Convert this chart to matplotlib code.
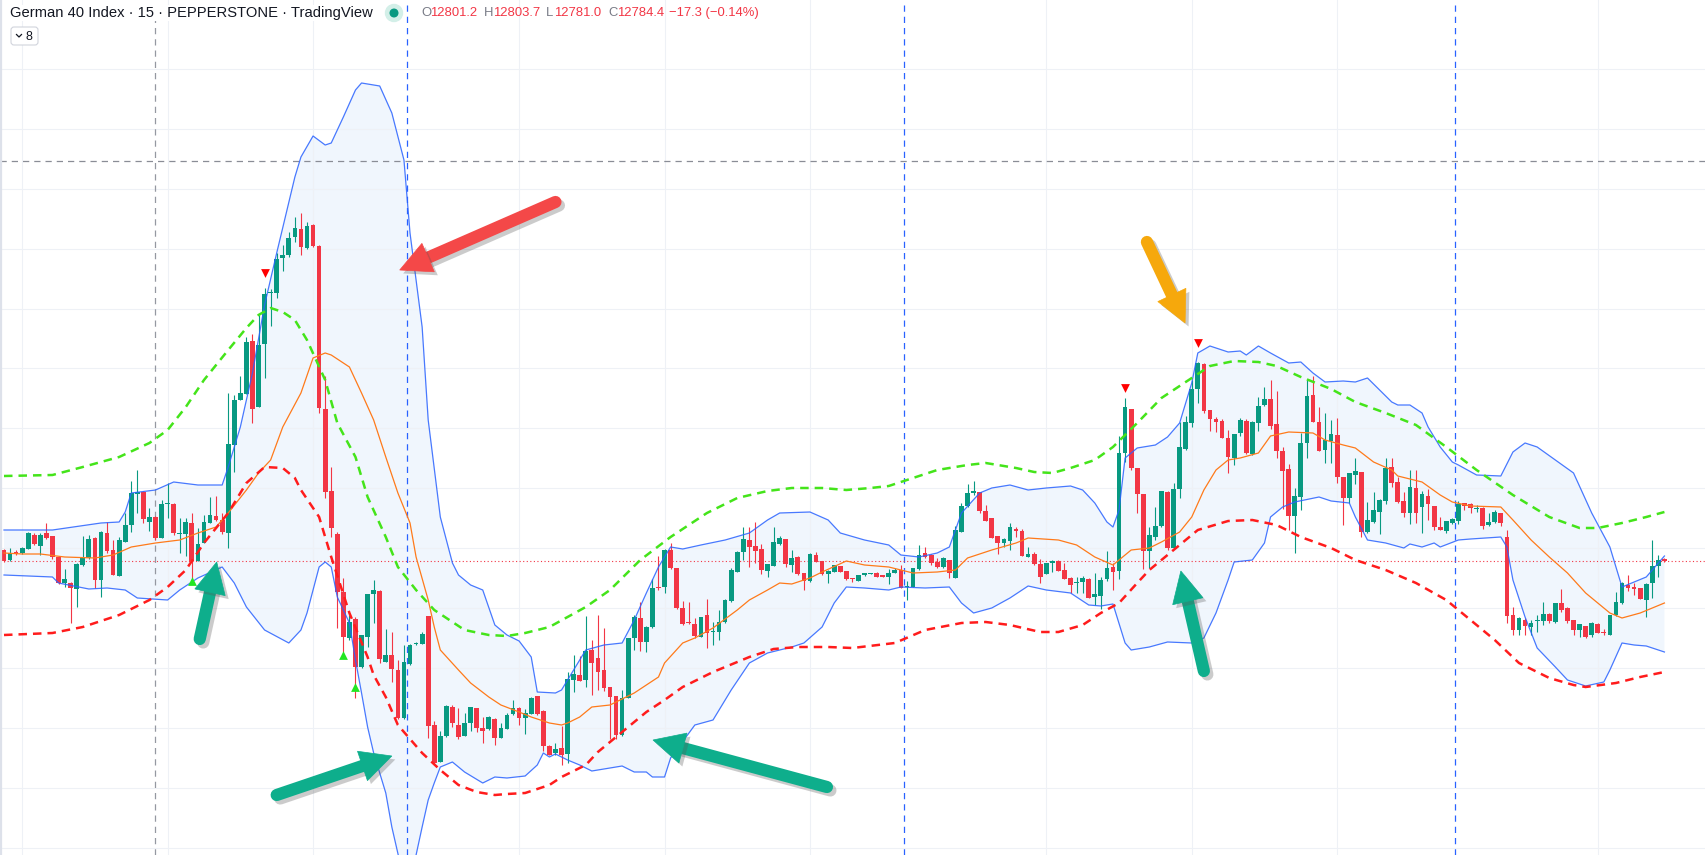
import numpy as np
import matplotlib
matplotlib.use("Agg")
import matplotlib.pyplot as plt
from matplotlib.patches import Polygon, Circle, FancyBboxPatch
import matplotlib.patheffects as pe

# ---- 15 min candles (German 40) ----
op = [12795,12785,12793,12792,12796,12810,12799,12812,12809,12788,
      12762,12762,12756,12780,12787,12807,12765,12812,12795,12769,
      12803,12820,12851,12853,12823,12828,12807,12841,12841,12811,
      12811,12822,12784,12802,12822,12829,12825,12812,12900,12945,
      12951,13004,12938,13001,13052,13052,13087,13090,13108,13116,
      13097,13120,13099,12936,12854,12811,12753,12707,12726,12678,
      12708,12751,12754,12683,12690,12675,12627,12681,12701,12701,
      12729,12620,12583,12609,12638,12620,12609,12622,12637,12617,
      12616,12626,12607,12616,12631,12637,12627,12631,12649,12634,
      12599,12592,12597,12591,12665,12670,12665,12695,12687,12675,
      12658,12649,12610,12647,12707,12727,12703,12718,12758,12758,
      12795,12777,12737,12723,12721,12708,12730,12713,12713,12723,
      12744,12773,12793,12805,12799,12796,12774,12779,12801,12806,
      12780,12788,12772,12764,12790,12784,12771,12773,12779,12774,
      12767,12764,12770,12771,12772,12770,12768,12772,12775,12758,
      12758,12776,12792,12790,12783,12778,12785,12767,12813,12839,
      12852,12853,12834,12827,12809,12802,12804,12816,12814,12788,
      12791,12781,12771,12782,12784,12775,12767,12762,12763,12766,
      12748,12749,12766,12778,12774,12892,12936,12877,12851,12794,
      12808,12819,12853,12797,12856,12896,12922,12956,12981,12935,
      12926,12924,12907,12887,12912,12924,12891,12922,12940,12946,
      12921,12894,12876,12829,12848,12902,12950,12923,12895,12904,
      12910,12868,12847,12870,12873,12813,12823,12833,12844,12878,
      12863,12844,12832,12857,12838,12849,12839,12818,12814,12822,
      12824,12842,12841,12835.5,12837,12820,12823,12832,12808,12730,
      12715,12725,12718,12723.5,12724,12731,12723,12742,12737,12725,
      12715,12719,12710,12721,12713,12710,12730,12742,12760,12758,
      12757,12745,12762,12779,12786]
hi = [12796,12797,12795,12798,12813,12812,12812,12822,12809,12788,
      12776,12763,12782,12809,12810,12808,12814,12823,12805,12808,
      12832,12864,12875,12854,12837,12829,12845,12862,12842,12827,
      12827,12832,12817,12830,12848,12849,12832,12952,12950,12969,
      13008,13011,13030,13057,13056,13092,13100,13113,13128,13132,
      13123,13121,13100,12969,12878,12813,12767,12730,12728,12710,
      12751,12765,12755,12716,12713,12685,12700,12701,12703,12713,
      12729,12624,12614,12640,12640,12637,12632,12638,12637,12628,
      12629,12627,12622,12632,12645,12638,12636,12648,12649,12635,
      12600,12602,12619,12673,12690,12689,12729,12705,12730,12717,
      12658,12649,12655,12707,12730,12743,12719,12766,12789,12796,
      12802,12777,12744,12743,12727,12728,12746,12723,12735,12746,
      12777,12794,12818,12818,12823,12801,12781,12818,12809,12806,
      12795,12789,12772,12792,12793,12784,12775,12780,12779,12774,
      12767,12770,12772,12772,12773,12770,12776,12777,12780,12764,
      12777,12800,12798,12791,12787,12788,12785,12819,12842,12861,
      12864,12853,12840,12827,12809,12807,12822,12818,12816,12798,
      12793,12786,12782,12785,12785,12782,12768,12768,12769,12767,
      12772,12768,12794,12782,12909,12947,12936,12877,12851,12818,
      12838,12854,12854,12862,12923,12929,12965,12983,12982,12935,
      12928,12926,12915,12911,12927,12926,12924,12948,12958,12965,
      12954,12898,12881,12857,12912,12966,12969,12938,12932,12925,
      12927,12868,12872,12887,12873,12843,12853,12846,12887,12887,
      12868,12853,12875,12875,12854,12856,12839,12828,12824,12827,
      12844,12842,12842,12840,12838,12832,12835,12832,12815,12738,
      12728,12727,12725,12730,12743,12732,12742,12756,12738,12725,
      12721,12719,12723,12722,12716,12730,12753,12763,12770,12762,
      12757,12762,12805,12790,12787]
lo = [12783,12784,12790,12791,12796,12800,12790,12806,12786,12761,
      12758,12722,12738,12779,12786,12757,12748,12792,12770,12769,
      12803,12813,12832,12822,12814,12805,12807,12827,12810,12792,
      12789,12765,12784,12802,12822,12824,12811,12797,12873,12945,
      12951,12922,12938,12967,13019,13047,13074,13088,13103,13090,
      13096,13098,12932,12847,12808,12717,12693,12705,12647,12677,
      12698,12722,12682,12683,12663,12626,12626,12680,12700,12701,
      12607,12580,12583,12608,12618,12606,12609,12614,12613,12602,
      12615,12600,12607,12616,12630,12620,12611,12631,12630,12594,
      12590,12590,12580,12582,12653,12664,12658,12650,12655,12654,
      12606,12606,12609,12647,12695,12694,12693,12717,12755,12752,
      12776,12736,12720,12721,12707,12708,12697,12700,12705,12722,
      12743,12773,12785,12778,12782,12771,12768,12779,12800,12778,
      12773,12770,12755,12763,12783,12770,12762,12773,12773,12765,
      12763,12764,12769,12771,12768,12768,12761,12772,12757,12745,
      12758,12775,12787,12780,12777,12777,12767,12767,12813,12838,
      12850,12832,12824,12807,12791,12798,12795,12808,12789,12788,
      12780,12762,12771,12773,12774,12766,12752,12752,12752,12747,
      12740,12736,12764,12755,12766,12883,12875,12832,12776,12777,
      12805,12818,12795,12797,12847,12895,12918,12942,12932,12914,
      12913,12907,12872,12880,12909,12891,12890,12914,12939,12916,
      12887,12836,12815,12792,12835,12887,12923,12894,12882,12882,
      12862,12820,12842,12861,12808,12812,12822,12811,12841,12858,
      12842,12828,12821,12822,12812,12825,12815,12815,12812,12821,
      12821,12835,12832,12833,12816,12819,12822,12819,12722,12710,
      12710,12710,12710,12713,12720,12722,12722,12733,12722,12710,
      12708,12707,12708,12712,12710,12710,12729,12741,12754,12750,
      12746,12728,12747,12768,12783]
cl = [12784,12792,12791,12797,12812,12801,12810,12807,12788,12762,
      12766,12757,12781,12788,12806,12765,12813,12794,12770,12805,
      12820,12852,12853,12826,12828,12807,12841,12842,12812,12812,
      12823,12784,12801,12823,12830,12825,12813,12901,12945,12952,
      13003,12936,13000,13051,13053,13086,13090,13107,13117,13098,
      13119,13099,12937,12853,12817,12753,12708,12723,12678,12710,
      12751,12755,12686,12690,12676,12627,12683,12700,12702,12711,
      12619,12582,12609,12639,12622,12608,12622,12638,12617,12614,
      12628,12607,12617,12630,12637,12627,12632,12647,12631,12599,
      12590,12596,12590,12666,12671,12664,12694,12682,12673,12657,
      12648,12610,12647,12707,12728,12703,12718,12757,12757,12795,
      12777,12737,12721,12722,12709,12728,12712,12714,12723,12745,
      12775,12793,12806,12798,12794,12775,12781,12803,12807,12781,
      12787,12771,12764,12791,12783,12771,12774,12780,12773,12766,
      12766,12770,12772,12772,12768,12768,12772,12775,12757,12759,
      12777,12790,12788,12782,12778,12787,12772,12815,12839,12852,
      12854,12834,12824,12807,12802,12806,12818,12814,12789,12791,
      12781,12768,12782,12784,12774,12766,12760,12763,12767,12747,
      12751,12765,12777,12773,12892,12938,12877,12851,12794,12810,
      12819,12854,12797,12856,12898,12923,12956,12982,12934,12926,
      12923,12907,12888,12911,12925,12892,12923,12939,12946,12919,
      12894,12874,12829,12849,12902,12949,12923,12894,12905,12911,
      12868,12847,12872,12874,12813,12825,12835,12845,12877,12862,
      12843,12832,12858,12832,12851,12841,12818,12815,12824,12826,
      12841,12839,12837,12836.5,12819,12823,12833,12822,12729,12715,
      12727,12719,12722,12724.5,12731,12724,12742,12735,12724,12715,
      12721,12708,12722,12712,12712,12730,12743,12762,12757,12756,
      12746,12761,12779,12785,12784]

# ---- Bollinger bands (sampled at bar index) ----
bb_up_idx = [0,8,16,19,20,21,25,28,32,36,37,39,41,43,45,48,49,51,53,54,
             56,58,59,62,64,66,67,69,70,72,74,75,77,79,81,83,85,87,88,91,
             92,93,96,99,102,104,106,108,110,112,115,119,123,126,128,133,136,138,142,146,
             148,151,154,156,158,161,163,166,169,172,176,178,180,182,183,184,185,187,190,192,
             194,196,197,199,202,204,205,207,209,212,214,216,218,221,223,225,227,229,230,232,
             234,235,237,239,240,243,247,249,251,253,256,259,262,265,267,269,271,274]
bb_up = [12815,12815,12822,12823,12833,12852,12855,12863,12860,12860,12878,12918,12972,13040,13092,13168,13188,13209,13200,13202,
         13228,13255,13262,13259,13232,13185,13112,13018,12925,12828,12782,12770,12760,12755,12720,12710,12704,12688,12653,12652,
         12655,12665,12695,12700,12702,12725,12752,12778,12798,12796,12800,12805,12812,12825,12832,12833,12825,12812,12805,12800,
         12790,12788,12792,12798,12832,12852,12857,12860,12855,12857,12859,12855,12842,12823,12818,12835,12887,12897,12900,12908,
         12922,12962,12992,12999,12993,12994,12990,12999,12992,12982,12983,12972,12963,12964,12963,12967,12955,12943,12940,12940,
         12932,12918,12898,12883,12880,12870,12869,12893,12902,12898,12885,12872,12832,12798,12758,12763,12768,12789]
bb_lo_idx = [0,8,9,14,17,20,22,27,29,32,36,38,40,43,47,49,50,52,53,54,
             55,57,58,59,60,61,63,64,66,68,69,70,71,72,74,76,79,81,83,86,
             88,89,90,91,93,95,97,100,102,104,106,107,109,110,114,117,120,123,126,130,
             132,135,137,139,142,146,148,152,156,158,160,163,166,169,172,176,179,181,183,185,
             186,189,192,196,198,200,202,203,206,208,209,211,213,217,219,222,223,225,228,231,
             232,234,236,237,240,242,247,248,249,251,253,256,258,261,264,265,267,269,271,274]
bb_lo = [12770,12768,12762,12756,12757,12755,12747,12745,12755,12767,12778,12762,12738,12715,12702,12715,12732,12778,12783,12778,
         12748,12722,12685,12652,12618,12592,12552,12518,12465,12490,12518,12545,12562,12578,12583,12573,12562,12568,12567,12569,
         12580,12592,12588,12591,12585,12580,12574,12577,12579,12573,12573,12568,12568,12587,12620,12625,12655,12682,12692,12698,
         12702,12718,12742,12758,12757,12755,12758,12757,12758,12742,12732,12737,12747,12759,12755,12752,12740,12739,12741,12702,
         12695,12698,12703,12702,12707,12732,12765,12783,12785,12802,12828,12838,12843,12848,12844,12842,12828,12805,12802,12797,
         12801,12798,12802,12798,12805,12806,12808,12798,12765,12728,12697,12678,12665,12659,12663,12675,12702,12700,12699,12693]
basis_idx = [0,3,6,10,15,18,21,25,29,32,35,37,40,42,44,46,49,51,53,54,
             57,59,61,63,65,67,68,70,71,72,75,77,80,82,85,87,90,92,93,95,
             97,100,104,108,109,112,114,117,121,123,126,128,130,133,135,139,142,146,150,154,
             157,159,163,167,169,174,177,180,183,184,186,189,191,194,196,198,200,202,204,207,
             209,212,216,218,221,223,226,229,230,234,237,239,242,247,249,252,255,258,261,265,
             267,270,272,274]
basis = [12792,12791,12791,12788,12787,12790,12798,12802,12805,12812,12818,12832,12855,12872,12885,12918,12952,12987,12992,12990,
         12978,12952,12925,12888,12852,12822,12788,12745,12718,12695,12675,12662,12648,12640,12633,12628,12622,12620,12622,12628,
         12638,12640,12652,12668,12682,12702,12707,12717,12735,12745,12755,12762,12761,12767,12773,12784,12780,12778,12772,12773,
         12775,12787,12795,12802,12807,12805,12800,12788,12780,12785,12795,12797,12803,12813,12828,12855,12875,12885,12887,12892,
         12909,12913,12912,12905,12900,12897,12883,12875,12869,12863,12850,12843,12839,12838,12825,12805,12788,12772,12752,12732,
         12727,12732,12737,12742]

# ---- envelope (dashed) ----
env_up_idx = [0,8,13,19,24,27,30,33,37,40,42,44,46,48,50,53,55,58,60,63,
              65,68,71,74,76,80,83,86,90,93,96,100,105,110,116,121,126,130,135,139,
              143,146,150,154,159,162,167,170,173,176,180,183,187,191,196,199,203,207,210,214,
              219,223,228,233,238,243,249,255,260,263,267,271,274]
env_up = [12869,12870,12878,12888,12902,12915,12938,12965,12995,13017,13030,13037,13033,13025,13005,12965,12922,12888,12848,12808,
          12778,12755,12735,12723,12715,12710,12709,12712,12718,12728,12738,12755,12785,12808,12832,12847,12854,12857,12857,12855,
          12857,12859,12867,12875,12880,12882,12877,12873,12872,12877,12885,12898,12922,12947,12967,12979,12984,12983,12979,12968,
          12956,12943,12932,12920,12898,12875,12850,12828,12817,12817,12822,12828,12833]
env_lo_idx = [0,8,13,19,24,27,30,33,37,40,43,46,48,49,52,54,57,60,61,63,
              65,69,72,75,78,81,83,86,90,92,96,98,103,106,109,112,117,123,127,131,
              136,140,147,152,158,162,166,171,174,178,181,184,187,189,193,197,202,206,210,214,
              219,223,228,233,238,242,246,250,255,259,261,266,270,274]
env_lo = [12710,12712,12718,12730,12745,12758,12775,12802,12832,12862,12878,12877,12867,12855,12828,12788,12732,12688,12670,12648,
          12620,12592,12575,12560,12553,12550,12551,12552,12560,12568,12580,12593,12618,12633,12645,12658,12673,12688,12696,12698,
          12698,12697,12702,12715,12722,12723,12720,12713,12713,12720,12732,12742,12762,12775,12795,12815,12824,12825,12820,12808,
          12797,12785,12775,12762,12745,12725,12705,12682,12667,12660,12658,12662,12668,12673]

sell_idx = [43, 185, 197]
sell_lvl = [13072, 12957, 13002]
buy_idx = [31, 56, 58]
buy_lvl = [12764, 12690, 12658]

last_price = 12784
hline_price = 13184
session_breaks = [66.5, 148.5, 239.5]
marker_bar = 25

# arrows: (tail bar, tail price, tip bar, tip price, colour)
arrows = [
    (91.0, 13143, 65.3, 13075, '#f44848'),
    (32.3, 12706, 35.1, 12783, '#0eae8c'),
    (45.0, 12550, 64.0, 12589, '#0eae8c'),
    (135.8, 12558, 107.1, 12605, '#0eae8c'),
    (198.0, 12674, 194.2, 12774, '#0eae8c'),
    (188.6, 13103, 194.9, 13022, '#f6a80c'),
]

UP = '#089981'
DN = '#f23645'

W, H = 1706, 855
fig = plt.figure(figsize=(W / 100, H / 100), dpi=100)
ax = fig.add_axes([0, 0, 1, 1])
ax.set_xlim(-0.66, 280.86)
ax.set_ylim(12490, 13345)

# grid
ax.set_xticks([3, 27, 51, 85, 109, 133, 172, 196, 220, 263])
ax.set_yticks(np.arange(13276, 12490, -59.9))
ax.tick_params(length=0, labelleft=False, labelbottom=False)
ax.grid(True, color='#eef1f6', lw=0.75, zorder=0)
for s in ax.spines.values():
    s.set_visible(False)

# band fill
poly_x = np.concatenate([bb_up_idx, bb_lo_idx[::-1]])
poly_y = np.concatenate([bb_up, bb_lo[::-1]])
ax.fill(poly_x, poly_y, color='#f0f6fd', lw=0, zorder=1)

# separators and reference lines
for b in session_breaks:
    ax.axvline(b, color='#2962ff', lw=0.9, dashes=(5, 4), zorder=2)
ax.axvline(marker_bar, color='#9598a1', lw=0.9, dashes=(5, 4), zorder=2)
ax.axhline(hline_price, color='#8a8d96', lw=0.9, dashes=(5, 4), zorder=2)
ax.axhline(last_price, color=DN, lw=0.8, dashes=(1, 2.2), zorder=2)

# candles
idx = np.arange(len(op))
o = np.array(op); c = np.array(cl); h = np.array(hi); l = np.array(lo)
cols = np.where(c >= o, UP, DN)
ax.vlines(idx, l, h, colors=cols, lw=0.8, zorder=3)
body = np.maximum(np.abs(c - o), 0.9)
ax.bar(idx, body, bottom=np.minimum(o, c), width=0.78, color=cols, lw=0, zorder=4)

# indicators
ax.plot(bb_up_idx, bb_up, color='#2962ff', lw=0.9, alpha=0.85, zorder=5)
ax.plot(bb_lo_idx, bb_lo, color='#2962ff', lw=0.9, alpha=0.85, zorder=5)
ax.plot(basis_idx, basis, color='#ff7a1a', lw=0.9, zorder=5)
ax.plot(env_up_idx, env_up, color='#44e41a', lw=1.8, dashes=(3.4, 2.4), zorder=6)
ax.plot(env_lo_idx, env_lo, color='#ff1c1c', lw=1.8, dashes=(3.4, 2.4), zorder=6)

ax.scatter(sell_idx, sell_lvl, marker='v', s=40, color='#ff0000', lw=0, zorder=7)
ax.scatter(buy_idx, buy_lvl, marker='^', s=40, color='#22e622', lw=0, zorder=7)

# overlay in pixel space for legend and arrows
ov = fig.add_axes([0, 0, 1, 1], facecolor='none')
ov.set_xlim(0, W)
ov.set_ylim(H, 0)
ov.axis('off')
ov.set_zorder(5)

ov.axvline(1, color='#dde1ea', lw=1.6)

shadow_line = [pe.SimpleLineShadow(offset=(2.5, -2.5), shadow_color='#555555', alpha=0.3), pe.Normal()]
shadow_patch = [pe.withSimplePatchShadow(offset=(2.5, -2.5), shadow_rgbFace='#555555', alpha=0.3)]
for tb, tp, hb, hp, col in arrows:
    p0 = ax.transData.transform((tb, tp))
    p1 = ax.transData.transform((hb, hp))
    p0 = np.array([p0[0], H - p0[1]])
    p1 = np.array([p1[0], H - p1[1]])
    d = p1 - p0
    u = d / np.hypot(*d)
    n = np.array([-u[1], u[0]])
    hl, hw = 31, 15.5
    base = p1 - u * hl
    end = base + u * 4
    ov.plot([p0[0], end[0]], [p0[1], end[1]], color=col, lw=8.8,
            solid_capstyle='round', path_effects=shadow_line, zorder=3)
    ov.add_patch(Polygon([p1, base + n * hw, base - n * hw], closed=True,
                         fc=col, ec=col, lw=0.5, path_effects=shadow_patch, zorder=4))

FONT = ['Liberation Sans', 'DejaVu Sans']
ov.text(10, 13, 'German 40 Index · 15 · PEPPERSTONE · TradingView', fontsize=10.6,
        family=FONT, color='#131722', va='center', ha='left',
        bbox=dict(fc='white', ec='none', pad=1.0))
ov.add_patch(Circle((394, 13), 8.5, color='#d3efe8'))
ov.add_patch(Circle((394, 13), 3.8, color=UP))

ohlc = [(421, 'O', '#787b86'), (430, '12801.2', DN), (484, 'H', '#787b86'), (493, '12803.7', DN),
        (546, 'L', '#787b86'), (554, '12781.0', DN), (608, 'C', '#787b86'), (617, '12784.4', DN),
        (669, '\u221217.3 (\u22120.14%)', DN)]
for x, t, col in ohlc:
    ov.text(x, 13, t, fontsize=9.4, family=FONT, color=col, va='center', ha='left')

ov.add_patch(FancyBboxPatch((11, 27), 27, 18, boxstyle='round,pad=0,rounding_size=3',
                            fc='white', ec='#d1d4dc', lw=0.8))
ov.plot([16.5, 19, 21.5], [34.5, 37, 34.5], color='#131722', lw=0.9)
ov.text(25.5, 36.5, '8', fontsize=9, family=FONT, color='#131722', va='center', ha='left')

fig.savefig('out.png', dpi=100)
